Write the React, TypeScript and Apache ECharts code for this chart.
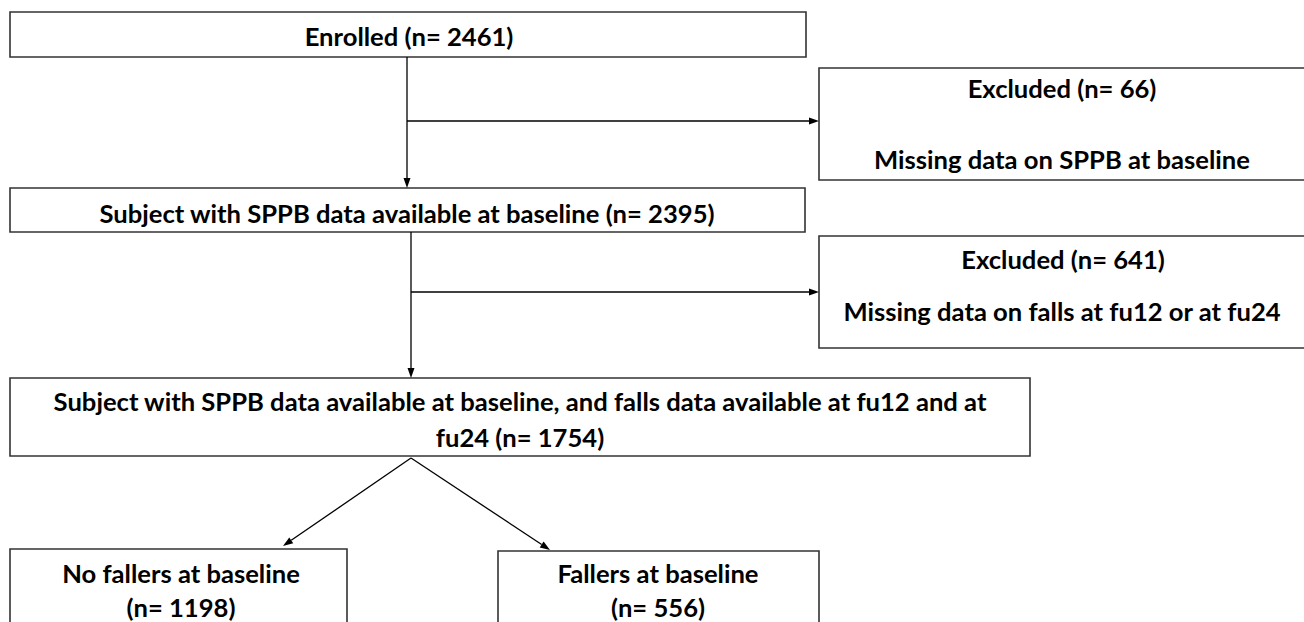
import React, { useEffect, useRef } from "react";
import * as echarts from "echarts";

// ---- Data (labels and counts) ----
const stepLabels = [
  "Enrolled",
  "Subject with SPPB data available at baseline",
  "Subject with SPPB data available at baseline, and falls data available at fu12 and at",
  "fu24",
];
const stepCounts = [2461, 2395, 1754];
const exclusionLabels = ["Excluded", "Excluded"];
const exclusionCounts = [66, 641];
const exclusionReasons = [
  "Missing data on SPPB at baseline",
  "Missing data on falls at fu12 or at fu24",
];
const groupLabels = ["No fallers at baseline", "Fallers at baseline"];
const groupCounts = [1198, 556];

const nText = (n: number) => `(n= ${n})`;

// ---- Layout ----
const FONT = "Lato, 'Open Sans', sans-serif";
const FS = 25.6;
const BOX_STROKE = "#333";
const LINE = "#000";

function box(x: number, y: number, w: number, h: number) {
  return {
    type: "rect",
    shape: { x, y, width: w, height: h },
    style: { fill: "#fff", stroke: BOX_STROKE, lineWidth: 1.6 },
    z: 1,
  };
}
function label(text: string, x: number, y: number) {
  return {
    type: "text",
    x,
    y,
    style: {
      text,
      fill: "#000",
      font: `bold ${FS}px ${FONT}`,
      textAlign: "center",
      textVerticalAlign: "middle",
    },
    z: 3,
  };
}
function arrow(x1: number, y1: number, x2: number, y2: number) {
  const dx = x2 - x1;
  const dy = y2 - y1;
  const len = Math.sqrt(dx * dx + dy * dy);
  const ux = dx / len;
  const uy = dy / len;
  const hl = 10;
  const hw = 3.5;
  const bx = x2 - ux * hl;
  const by = y2 - uy * hl;
  return [
    {
      type: "line",
      shape: { x1, y1, x2: bx, y2: by },
      style: { stroke: LINE, lineWidth: 1.3 },
      z: 2,
    },
    {
      type: "polygon",
      shape: {
        points: [
          [x2, y2],
          [bx - uy * hw, by + ux * hw],
          [bx + uy * hw, by - ux * hw],
        ],
      },
      style: { fill: LINE },
      z: 2,
    },
  ];
}
function segment(x1: number, y1: number, x2: number, y2: number) {
  return {
    type: "line",
    shape: { x1, y1, x2, y2 },
    style: { stroke: LINE, lineWidth: 1.3 },
    z: 2,
  };
}

export default function App() {
  const ref = useRef<HTMLDivElement>(null);
  useEffect(() => {
    if (!ref.current) return;
    const chart = echarts.init(ref.current, null, { renderer: "svg" });
    const elements: any[] = [
      // boxes
      box(10, 12, 796, 45),
      box(10, 188, 795, 44),
      box(819, 68, 520, 112),
      box(819, 236, 520, 112),
      box(10, 378, 1020, 78),
      box(10, 549, 337, 120),
      box(498, 551, 321, 120),
      // connectors
      segment(407, 57, 407, 121),
      ...arrow(407, 121, 407, 188),
      ...arrow(407, 121, 819, 121),
      segment(411, 232, 411, 292),
      ...arrow(411, 292, 411, 378),
      ...arrow(411, 292, 819, 292),
      ...arrow(411, 458, 283, 546),
      ...arrow(411, 458, 550, 550),
      // texts
      label(`${stepLabels[0]} ${nText(stepCounts[0])}`, 409, 36),
      label(`${stepLabels[1]} ${nText(stepCounts[1])}`, 407, 213),
      label(`${exclusionLabels[0]} ${nText(exclusionCounts[0])}`, 1062, 88),
      label(exclusionReasons[0], 1062, 159),
      label(`${exclusionLabels[1]} ${nText(exclusionCounts[1])}`, 1063, 259),
      label(exclusionReasons[1], 1062, 311),
      label(stepLabels[2], 520, 401),
      label(`${stepLabels[3]} ${nText(stepCounts[2])}`, 520, 437),
      label(groupLabels[0], 181, 573),
      label(nText(groupCounts[0]), 181, 607),
      label(groupLabels[1], 658, 573),
      label(nText(groupCounts[1]), 658, 607),
    ];
    chart.setOption({
      animation: false,
      backgroundColor: "#fff",
      graphic: { elements },
    });
    return () => chart.dispose();
  }, []);
  return (
    <div
      ref={ref}
      style={{ position: "absolute", left: 0, top: 0, width: 1304, height: 622 }}
    />
  );
}
